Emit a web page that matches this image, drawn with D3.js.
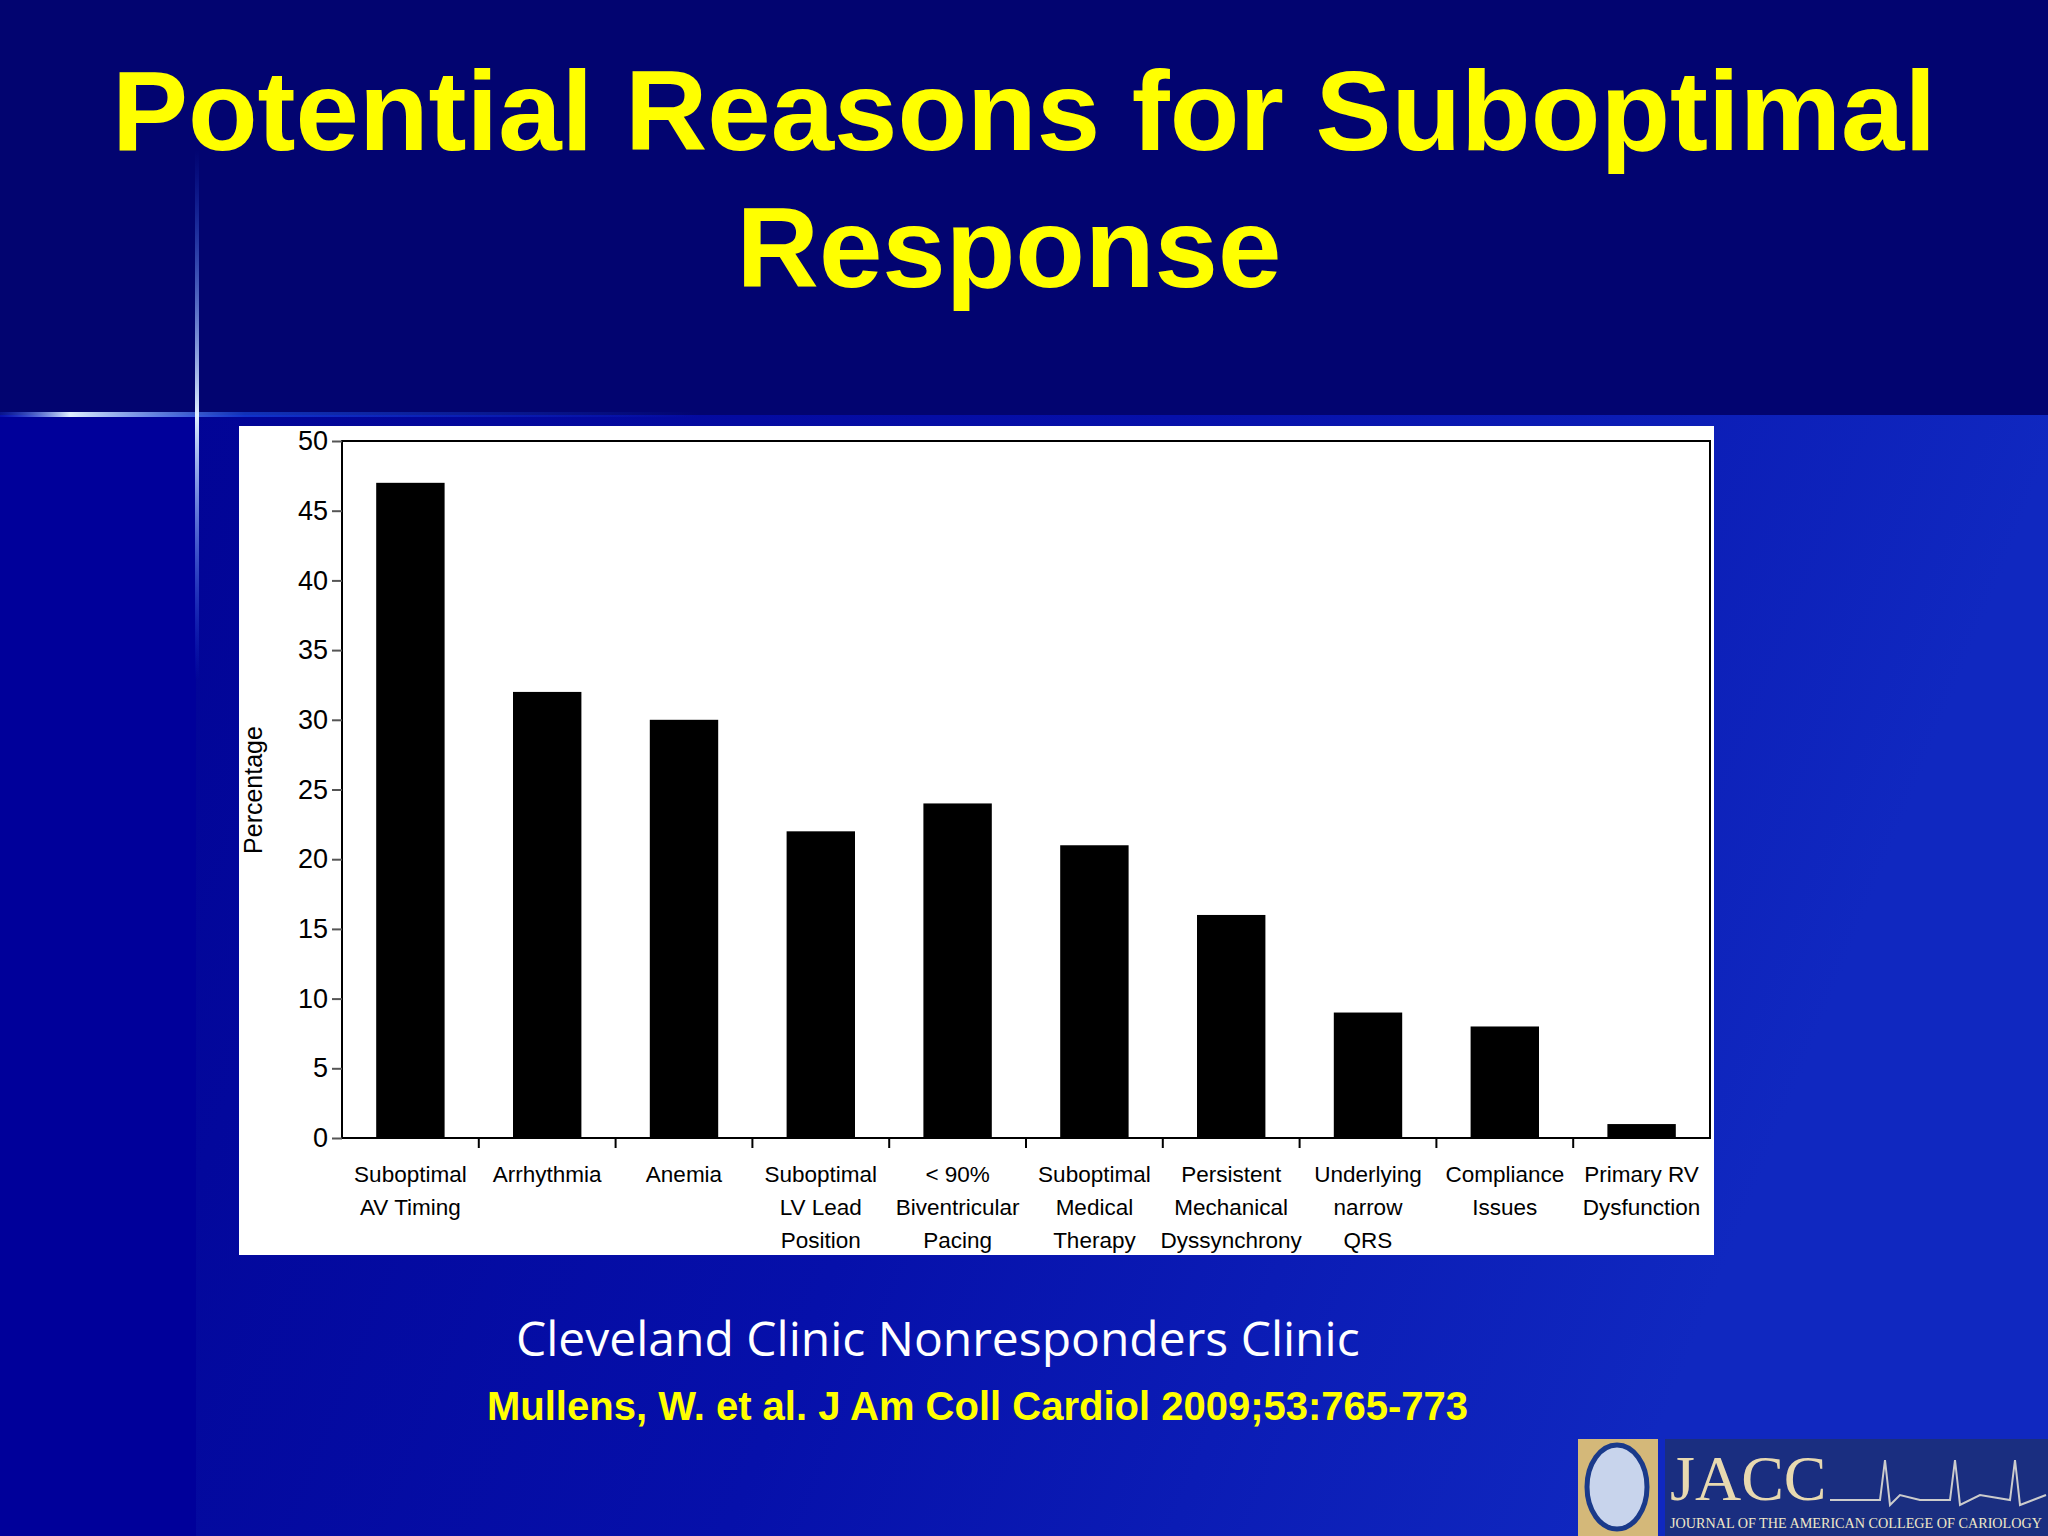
<!DOCTYPE html>
<html><head><meta charset="utf-8">
<script src="https://cdn.jsdelivr.net/npm/d3@7/dist/d3.min.js"></script>
<style>body{margin:0;overflow:hidden}</style></head>
<body><svg id="c" width="2048" height="1536"></svg>
<script>
const categories=[["Suboptimal","AV Timing"],["Arrhythmia"],["Anemia"],["Suboptimal","LV Lead","Position"],["< 90%","Biventricular","Pacing"],["Suboptimal","Medical","Therapy"],["Persistent","Mechanical","Dyssynchrony"],["Underlying","narrow","QRS"],["Compliance","Issues"],["Primary RV","Dysfunction"]];
const values=[47,32,30,22,24,21,16,9,8,1];
const yTicks=[0,5,10,15,20,25,30,35,40,45,50];
const svg=d3.select("#c");
const defs=svg.append("defs");
const g1=defs.append("linearGradient").attr("id","bg").attr("x1",0).attr("y1",0).attr("x2",1).attr("y2",0.3);
g1.append("stop").attr("offset",0).attr("stop-color","#00008e");
g1.append("stop").attr("offset",0.6).attr("stop-color","#0610aa");
g1.append("stop").attr("offset",1).attr("stop-color","#1028c0");
const g2=defs.append("linearGradient").attr("id","hl").attr("x1",0).attr("x2",1);
g2.append("stop").attr("offset",0).attr("stop-color","#2050ff").attr("stop-opacity",0.2);
g2.append("stop").attr("offset",0.1).attr("stop-color","#e0f0ff").attr("stop-opacity",1);
g2.append("stop").attr("offset",0.35).attr("stop-color","#2060ff").attr("stop-opacity",0.5);
g2.append("stop").attr("offset",1).attr("stop-color","#2060ff").attr("stop-opacity",0);
const g3=defs.append("linearGradient").attr("id","vl").attr("x1",0).attr("x2",0).attr("y1",0).attr("y2",1);
g3.append("stop").attr("offset",0).attr("stop-color","#2060ff").attr("stop-opacity",0);
g3.append("stop").attr("offset",0.5).attr("stop-color","#e0f0ff").attr("stop-opacity",1);
g3.append("stop").attr("offset",1).attr("stop-color","#2060ff").attr("stop-opacity",0);
svg.append("rect").attr("width",2048).attr("height",1536).attr("fill","url(#bg)");
svg.append("rect").attr("width",196).attr("height",1536).attr("fill","#00009a");
svg.append("rect").attr("width",2048).attr("height",415).attr("fill","#020470");
svg.append("rect").attr("x",0).attr("y",412).attr("width",700).attr("height",5).attr("fill","url(#hl)");
svg.append("rect").attr("x",195).attr("y",150).attr("width",4).attr("height",530).attr("fill","url(#vl)");

svg.append("text").attr("x",1024).attr("y",150).attr("text-anchor","middle").attr("fill","#ffff00")
 .attr("font-family","Liberation Sans, Arial").attr("font-weight","bold").attr("font-size",114).text("Potential Reasons for Suboptimal");
svg.append("text").attr("x",1009).attr("y",287).attr("text-anchor","middle").attr("fill","#ffff00")
 .attr("font-family","Liberation Sans, Arial").attr("font-weight","bold").attr("font-size",114).text("Response");

svg.append("rect").attr("x",239).attr("y",426).attr("width",1475).attr("height",829).attr("fill","#fff");
const L=342,R=1710,T=441,B=1138;
const x=d3.scaleBand().domain(d3.range(values.length)).range([L,R]).paddingInner(0.5).paddingOuter(0.25);
const y=d3.scaleLinear().domain([0,50]).range([B,T]);
svg.append("rect").attr("x",L).attr("y",T).attr("width",R-L).attr("height",B-T).attr("fill","none").attr("stroke","#000").attr("stroke-width",2);
const ya=svg.append("g").attr("transform",`translate(${L},0)`).call(d3.axisLeft(y).tickValues(yTicks).tickSize(10).tickPadding(4));
ya.select(".domain").remove();
ya.selectAll("line").attr("stroke","#555").attr("stroke-width",2);
ya.selectAll("text").attr("font-family","Liberation Sans, Arial").attr("font-size",27).attr("fill","#000");
d3.range(values.length-1).forEach(i=>{
 const xx=x(i)+x.bandwidth()+(x.step()-x.bandwidth())/2;
 svg.append("line").attr("x1",xx).attr("x2",xx).attr("y1",B).attr("y2",B+10).attr("stroke","#000").attr("stroke-width",2);
});
svg.selectAll(".bar").data(values).enter().append("rect").attr("x",(d,i)=>x(i)).attr("width",x.bandwidth())
 .attr("y",d=>y(d)).attr("height",d=>B-y(d)).attr("fill","#000");
categories.forEach((c,i)=>{
 const t=svg.append("text").attr("x",x(i)+x.bandwidth()/2).attr("text-anchor","middle")
  .attr("font-family","Liberation Sans, Arial").attr("font-size",22.5).attr("fill","#000");
 c.forEach((s,j)=>t.append("tspan").attr("x",x(i)+x.bandwidth()/2).attr("y",1182+j*33).text(s));
});
svg.append("text").attr("transform","translate(262,790) rotate(-90)").attr("text-anchor","middle")
 .attr("font-family","Liberation Sans, Arial").attr("font-size",25).text("Percentage");

svg.append("text").attr("x",516).attr("y",1356).attr("fill","#fff").attr("font-family","Open Sans, DejaVu Sans").attr("font-size",48).text("Cleveland Clinic Nonresponders Clinic");
svg.append("text").attr("x",487).attr("y",1420).attr("fill","#ffff00").attr("font-family","Liberation Sans, Arial").attr("font-weight","bold").attr("font-size",40).text("Mullens, W. et al. J Am Coll Cardiol 2009;53:765-773");

// logo
svg.append("rect").attr("x",1578).attr("y",1439).attr("width",80).attr("height",97).attr("fill","#d4b879");
svg.append("ellipse").attr("cx",1617).attr("cy",1487).attr("rx",30).attr("ry",42).attr("fill","#c8d4ec").attr("stroke","#1a3a8a").attr("stroke-width",5);
svg.append("rect").attr("x",1665).attr("y",1439).attr("width",383).attr("height",97).attr("fill","#1a2e80");
svg.append("text").attr("x",1670).attr("y",1500).attr("fill","#e8d9b0").attr("font-family","Liberation Serif").attr("font-size",64).text("JACC");
svg.append("path").attr("d","M1830,1500 L1880,1500 L1885,1460 L1890,1505 L1900,1495 L1920,1500 L1950,1500 L1955,1460 L1960,1505 L1980,1495 L2010,1500 L2015,1460 L2020,1505 L2046,1495").attr("fill","none").attr("stroke","#ccc").attr("stroke-width",2);
svg.append("text").attr("x",1670).attr("y",1528).attr("fill","#f0e8c8").attr("font-family","Liberation Serif").attr("font-size",15).attr("textLength",372).attr("lengthAdjust","spacingAndGlyphs").text("JOURNAL OF THE AMERICAN COLLEGE OF CARIOLOGY");
</script></body></html>
